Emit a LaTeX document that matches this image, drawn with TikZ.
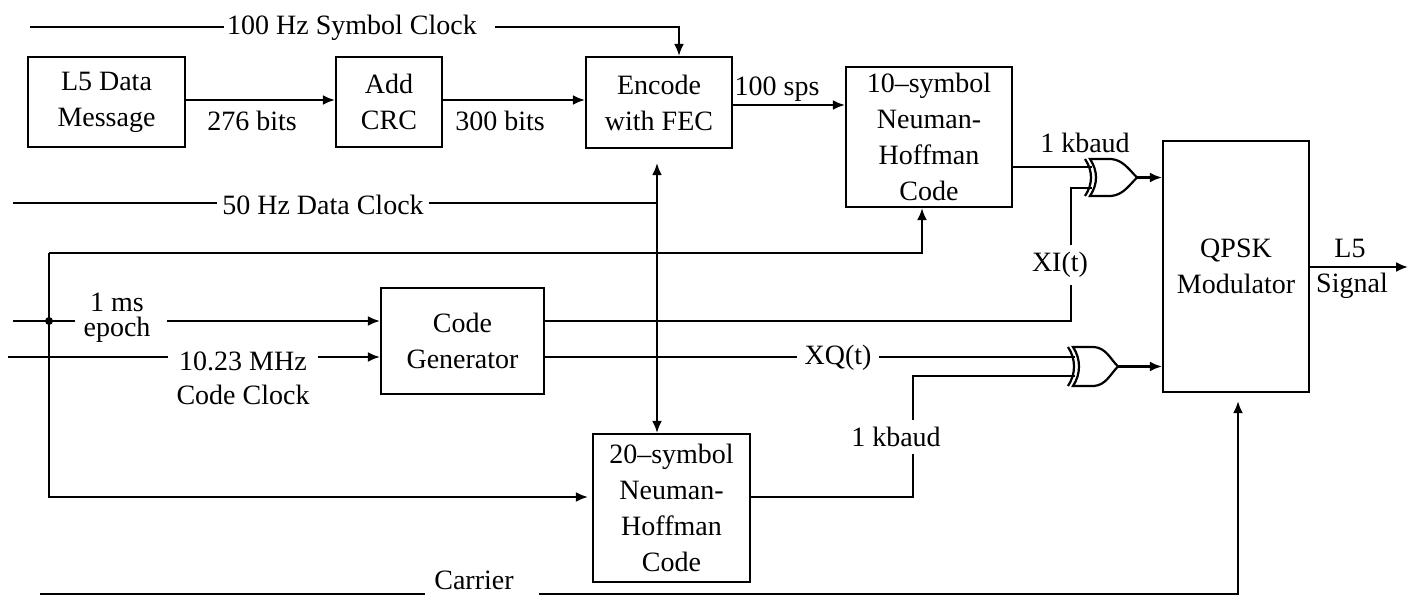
\documentclass[tikz,border=0pt]{standalone}
\usepackage{fontspec}
\setmainfont{Liberation Serif}
\usetikzlibrary{arrows.meta}
\newcommand\xorshape[4]{% left, top, bottom, tip x
  \pgfmathsetmacro\gyc{(#2+#3)/2}
  \draw (#1+5,#2) -- (#1+26,#2) .. controls (#1+38,#2+1) and (#4-8,\gyc-8) .. (#4,\gyc)
        .. controls (#4-8,\gyc+8) and (#1+38,#3-1) .. (#1+26,#3) -- (#1+5,#3)
        .. controls (#1+13,#3-12) and (#1+13,#2+12) .. cycle;
  \draw (#1,#2) .. controls (#1+8,#2+12) and (#1+8,#3-12) .. (#1,#3);
}
\begin{document}
\begin{tikzpicture}[x=0.5pt,y=-0.5pt,
  line width=1.1pt,
  arr/.style={-{Latex[length=6pt,width=5pt]}},
  box/.style={draw, align=center, inner sep=0pt, font=\fontsize{14pt}{18pt}\selectfont},
  lab/.style={inner xsep=2pt, inner ysep=0pt, font=\fontsize{14pt}{17pt}\selectfont, align=center},
]
\useasboundingbox (0,0) rectangle (1409,598);

% ---- boxes
\node[box, minimum width=78.5pt, minimum height=45pt] (msg) at (106.5,102) {L5 Data\\Message};
\node[box, minimum width=53pt, minimum height=45pt] (crc) at (389,102) {Add\\CRC};
\node[box, minimum width=73pt, minimum height=45.5pt] (fec) at (659,102.5) {Encode\\with FEC};
\node[box, minimum width=83pt, minimum height=70pt] (ns10) at (929,137) {10–symbol\\Neuman-\\Hoffman\\Code};
\node[box, minimum width=73pt, minimum height=125.5pt] (qpsk) at (1236,266.5) {QPSK\\Modulator};
\node[box, minimum width=81.5pt, minimum height=53pt] (cgen) at (462.5,341) {Code\\Generator};
\node[box, minimum width=78.5pt, minimum height=74pt] (ns20) at (671.5,508) {20–symbol\\Neuman-\\Hoffman\\Code};

% ---- XOR gates
\xorshape{1085}{159}{196}{1137}
\xorshape{1068}{347}{386}{1118}
\coordinate (g1a) at (1092,167);
\coordinate (g1b) at (1092,188);
\coordinate (g1o) at (1137,177.5);
\coordinate (g2a) at (1075,357);
\coordinate (g2b) at (1075,376);
\coordinate (g2o) at (1118,366.5);

% ---- 100 Hz symbol clock
\coordinate (sc0) at (30,27);
\node[lab, inner xsep=1pt] (sclab) at (352,28) {100 Hz Symbol Clock};
\coordinate (sc1) at (495,27);
\coordinate (x679) at (679,0);
\draw (sc0) -- (sclab.west |- sc0);
\draw[arr] (sc1) -| (fec.north -| x679);

% ---- data path
\coordinate (b100) at (0,100);
\draw[arr] (msg.east |- b100) -- (crc.west |- b100);
\node[lab] (l276) at (252,121) {276 bits};
\draw[arr] (crc.east |- b100) -- (fec.west |- b100);
\node[lab] (l300) at (500,121) {300 bits};
\coordinate (sps) at (846,105);
\draw[arr] (fec.east |- sps) -- (ns10.west |- sps);
\node[lab] (l100) at (777,89) {100 sps};

% ---- 50 Hz data clock
\coordinate (dc0) at (13,203);
\node[lab] (dclab) at (323,205) {50 Hz Data Clock};
\coordinate (j50) at (657,203);
\draw (dc0) -- (dclab.west |- dc0);
\draw (dclab.east |- j50) -- (j50);
\draw[arr, shorten >=7pt] (j50) -- (fec.south -| j50);
\draw[arr] (j50) -- (ns20.north -| j50);

% ---- left bus (1 ms epoch)
\coordinate (lt) at (49,253);
\coordinate (lb) at (49,497);
\coordinate (c922) at (922,253);
\draw[arr] (lt) -- (c922) -- (ns10.south -| c922);
\draw[arr] (lt) -- (lb) -- ([xshift=-2pt]ns20.west |- lb);

\coordinate (ep0) at (13,321);
\coordinate (epj) at (49,321);
\coordinate (ep1) at (75,321);
\coordinate (ep2) at (167,321);
\node[lab] (ms) at (117,302) {1 ms};
\node[lab] (epoch) at (117,330) {epoch};
\draw (ep0) -- (ep1);
\fill (epj) circle (2pt);
\draw[arr] (ep2) -- (cgen.west |- ep2);

% ---- 10.23 MHz code clock
\coordinate (ck0) at (8,357);
\node[lab, inner xsep=5pt] (mhz) at (243,361) {10.23 MHz};
\node[lab] (ccl) at (243,395) {Code Clock};
\draw (ck0) -- (mhz.west |- ck0);
\draw[arr] (mhz.east |- ck0) -- (cgen.west |- ck0);

% ---- XI(t)
\coordinate (xi1) at (1071,321);
\coordinate (xi2) at (1071,188);
\node[lab, inner ysep=3pt] (xilab) at (1060,265) {XI(t)};
\draw (cgen.east |- ep2) -- (xi1) -- (xilab.south -| xi1);
\draw (xilab.north -| xi1) -- (xi2) -- (g1b);

% ---- XQ(t)
\node[lab, inner xsep=3pt] (xqlab) at (838,358) {XQ(t)};
\draw (cgen.east |- ck0) -- (xqlab.west |- ck0);
\draw (xqlab.east |- ck0) -- (g2a);

% ---- 1 kbaud (upper)
\node[lab] (kb1) at (1085,143) {1 kbaud};
\draw (ns10.east |- g1a) -- (g1a);

% ---- 1 kbaud (lower)
\coordinate (k1) at (913,497);
\coordinate (k2) at (913,376);
\node[lab, inner ysep=3pt] (kb2) at (896,437) {1 kbaud};
\draw (ns20.east |- k1) -- (k1) -- (kb2.south -| k1);
\draw (kb2.north -| k1) -- (k2) -- (g2b);

% ---- gate outputs
\draw[arr] (g1o) -- (qpsk.west |- g1o);
\draw[arr] (g2o) -- (qpsk.west |- g2o);

% ---- carrier
\coordinate (ca0) at (40,594);
\node[lab, inner xsep=4pt] (calab) at (474,580) {Carrier};
\coordinate (ca1) at (539,594);
\coordinate (ca2) at (1238,594);
\draw (ca0) -- (calab.west |- ca0);
\draw[arr, shorten >=4pt] (ca1) -- (ca2) -- (qpsk.south -| ca2);

% ---- output
\coordinate (out) at (1408,267);
\draw[arr] (qpsk.east |- out) -- (out);
\node[lab] (l5) at (1350,248) {L5};
\node[lab] (sig) at (1352,286) {Signal};
\end{tikzpicture}
\end{document}
